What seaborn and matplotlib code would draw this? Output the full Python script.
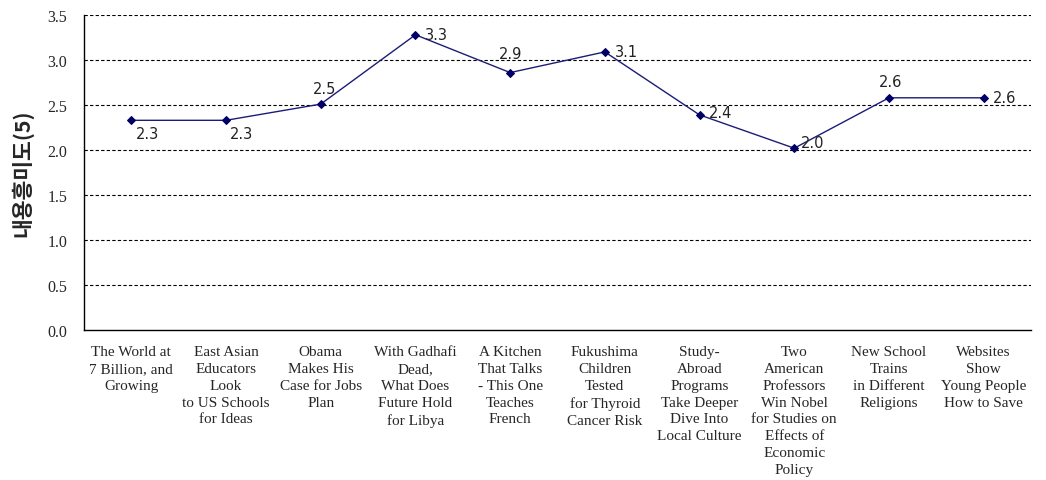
import matplotlib
matplotlib.use('Agg')
import matplotlib.pyplot as plt
import seaborn as sns
import pandas
import numpy

# article titles (x categories) and mean interest scores
titles = ['The World at\n7 Billion, and\nGrowing',
          'East Asian\nEducators\nLook\nto US Schools\nfor Ideas',
          'Obama\nMakes His\nCase for Jobs\nPlan',
          'With Gadhafi\nDead,\nWhat Does\nFuture Hold\nfor Libya',
          'A Kitchen\nThat Talks\n- This One\nTeaches\nFrench',
          'Fukushima\nChildren\nTested\nfor Thyroid\nCancer Risk',
          'Study-\nAbroad\nPrograms\nTake Deeper\nDive Into\nLocal Culture',
          'Two\nAmerican\nProfessors\nWin Nobel\nfor Studies on\nEffects of\nEconomic\nPolicy',
          'New School\nTrains\nin Different\nReligions',
          'Websites\nShow\nYoung People\nHow to Save']
scores = [2.33, 2.33, 2.51, 3.28, 2.86, 3.09, 2.39, 2.02, 2.58, 2.58]
score_labels = ['2.3', '2.3', '2.5', '3.3', '2.9', '3.1', '2.4', '2.0', '2.6', '2.6']
yticks = [0.0, 0.5, 1.0, 1.5, 2.0, 2.5, 3.0, 3.5]

# where each value label sits relative to its point (offset in points)
label_offsets = [(3, -15), (3, -15), (-6, 6), (7, -5), (-8, 8),
                 (7, -5), (7, -4), (5, -1), (-7, 6), (7, -5)]

sns.set_style('white')
plt.rcParams['font.family'] = ['DejaVu Sans']

df = pandas.DataFrame({'pos': numpy.arange(len(titles)), 'score': scores})

fig = plt.figure(figsize=(10.46, 4.81), dpi=100)
ax = fig.add_axes([84 / 1046, 1 - 331 / 481, (1031 - 84) / 1046, (331 - 16) / 481])

sns.lineplot(data=df, x='pos', y='score', ax=ax, color='#1c1c78', linewidth=1,
             marker='D', markersize=4.5, markeredgecolor='#000066',
             markerfacecolor='#000066')

for x, y, lab, off in zip(df['pos'], df['score'], score_labels, label_offsets):
    ax.annotate(lab, (x, y), xytext=off, textcoords='offset points',
                fontsize=10.5, color='#222222', va='bottom', ha='left')

ax.set_xlim(-0.5, len(titles) - 0.5)
ax.set_ylim(0, 3.5)
ax.set_yticks(yticks)
ax.set_yticklabels([f'{t:.1f}' for t in yticks], family='Liberation Serif', fontsize=11.5)
ax.set_xticks(df['pos'])
ax.set_xticklabels(titles, family='Liberation Serif', fontsize=11,
                   va='top', ha='center', linespacing=1.38)
ax.set_xticks(numpy.arange(len(titles) + 1) - 0.5, minor=True)
ax.tick_params(axis='x', which='major', length=0, pad=11)
ax.tick_params(axis='x', which='minor', length=5, width=0.8, color='black', direction='out')
ax.tick_params(axis='y', length=0, pad=12)

for t in yticks[1:]:
    ax.axhline(t, color='black', linestyle=(0, (3, 2)), linewidth=0.8, zorder=0)

for side in ['top', 'right']:
    ax.spines[side].set_visible(False)
for side in ['left', 'bottom']:
    ax.spines[side].set_color('black')
    ax.spines[side].set_linewidth(1)

ax.set_xlabel('')
ax.set_ylabel('내용흥미도(5)', family=['Noto Sans CJK KR', 'DejaVu Sans'],
              fontsize=15.5, fontweight='bold', labelpad=10)

fig.savefig('out.png', dpi=100)
